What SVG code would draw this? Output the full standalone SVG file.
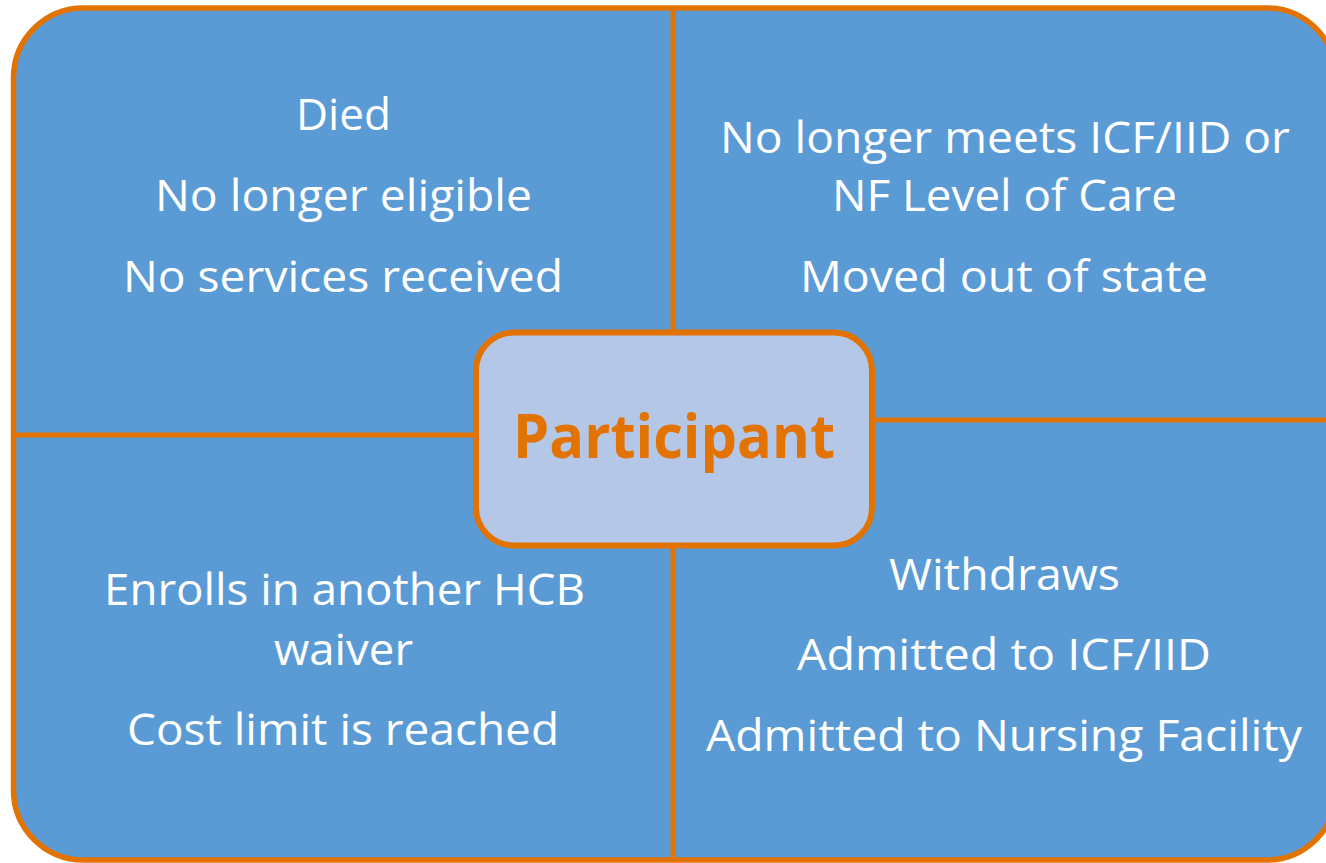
<svg xmlns="http://www.w3.org/2000/svg" width="1326" height="863" viewBox="0 0 1326 863">
  <style>
    .frame { fill: #5B9BD5; stroke: #E27300; stroke-width: 5.5; }
    .div { stroke: #E27300; stroke-width: 5; fill: none; }
    .center { fill: #B4C7E7; stroke: #E27300; stroke-width: 6; }
    .t { font-family: "Open Sans", "Liberation Sans", sans-serif; font-size: 44px; fill: #FFFFFF; text-anchor: middle; }
    .p { font-family: "Open Sans", "Liberation Sans", sans-serif; font-size: 61px; font-weight: bold; fill: #E27300; text-anchor: middle; }
  </style>
  <rect id="background" class="frame" x="13.5" y="8" width="1323" height="852" rx="70" ry="70"/>
  <g id="connectors">
    <line class="div" x1="673" y1="8" x2="673" y2="860"/>
    <line class="div" x1="13.5" y1="435" x2="478" y2="435"/>
    <line class="div" x1="870" y1="420" x2="1336" y2="420"/>
  </g>
  <g id="quadrant-top-left">
    <text class="t" x="343.5" y="130" textLength="95" lengthAdjust="spacingAndGlyphs">Died</text>
    <text class="t" x="343.5" y="211" textLength="377" lengthAdjust="spacingAndGlyphs">No longer eligible</text>
    <text class="t" x="343" y="292" textLength="440" lengthAdjust="spacingAndGlyphs">No services received</text>
  </g>
  <g id="quadrant-top-right">
    <text class="t" x="1005" y="153" textLength="570" lengthAdjust="spacingAndGlyphs">No longer meets ICF/IID or</text>
    <text class="t" x="1004.5" y="211" textLength="345" lengthAdjust="spacingAndGlyphs">NF Level of Care</text>
    <text class="t" x="1004" y="292" textLength="408" lengthAdjust="spacingAndGlyphs">Moved out of state</text>
  </g>
  <g id="quadrant-bottom-left">
    <text class="t" x="344.5" y="605" textLength="481" lengthAdjust="spacingAndGlyphs">Enrolls in another HCB</text>
    <text class="t" x="343.5" y="665" textLength="139" lengthAdjust="spacingAndGlyphs">waiver</text>
    <text class="t" x="343" y="745" textLength="432" lengthAdjust="spacingAndGlyphs">Cost limit is reached</text>
  </g>
  <g id="quadrant-bottom-right">
    <text class="t" x="1004.5" y="590" textLength="231" lengthAdjust="spacingAndGlyphs">Withdraws</text>
    <text class="t" x="1004" y="670" textLength="414" lengthAdjust="spacingAndGlyphs">Admitted to ICF/IID</text>
    <text class="t" x="1004" y="751" textLength="596" lengthAdjust="spacingAndGlyphs">Admitted to Nursing Facility</text>
  </g>
  <g id="participant">
    <rect class="center" x="476" y="332.5" width="396" height="213" rx="38" ry="38"/>
    <text class="p" x="674" y="458" textLength="322" lengthAdjust="spacingAndGlyphs">Participant</text>
  </g>
</svg>
